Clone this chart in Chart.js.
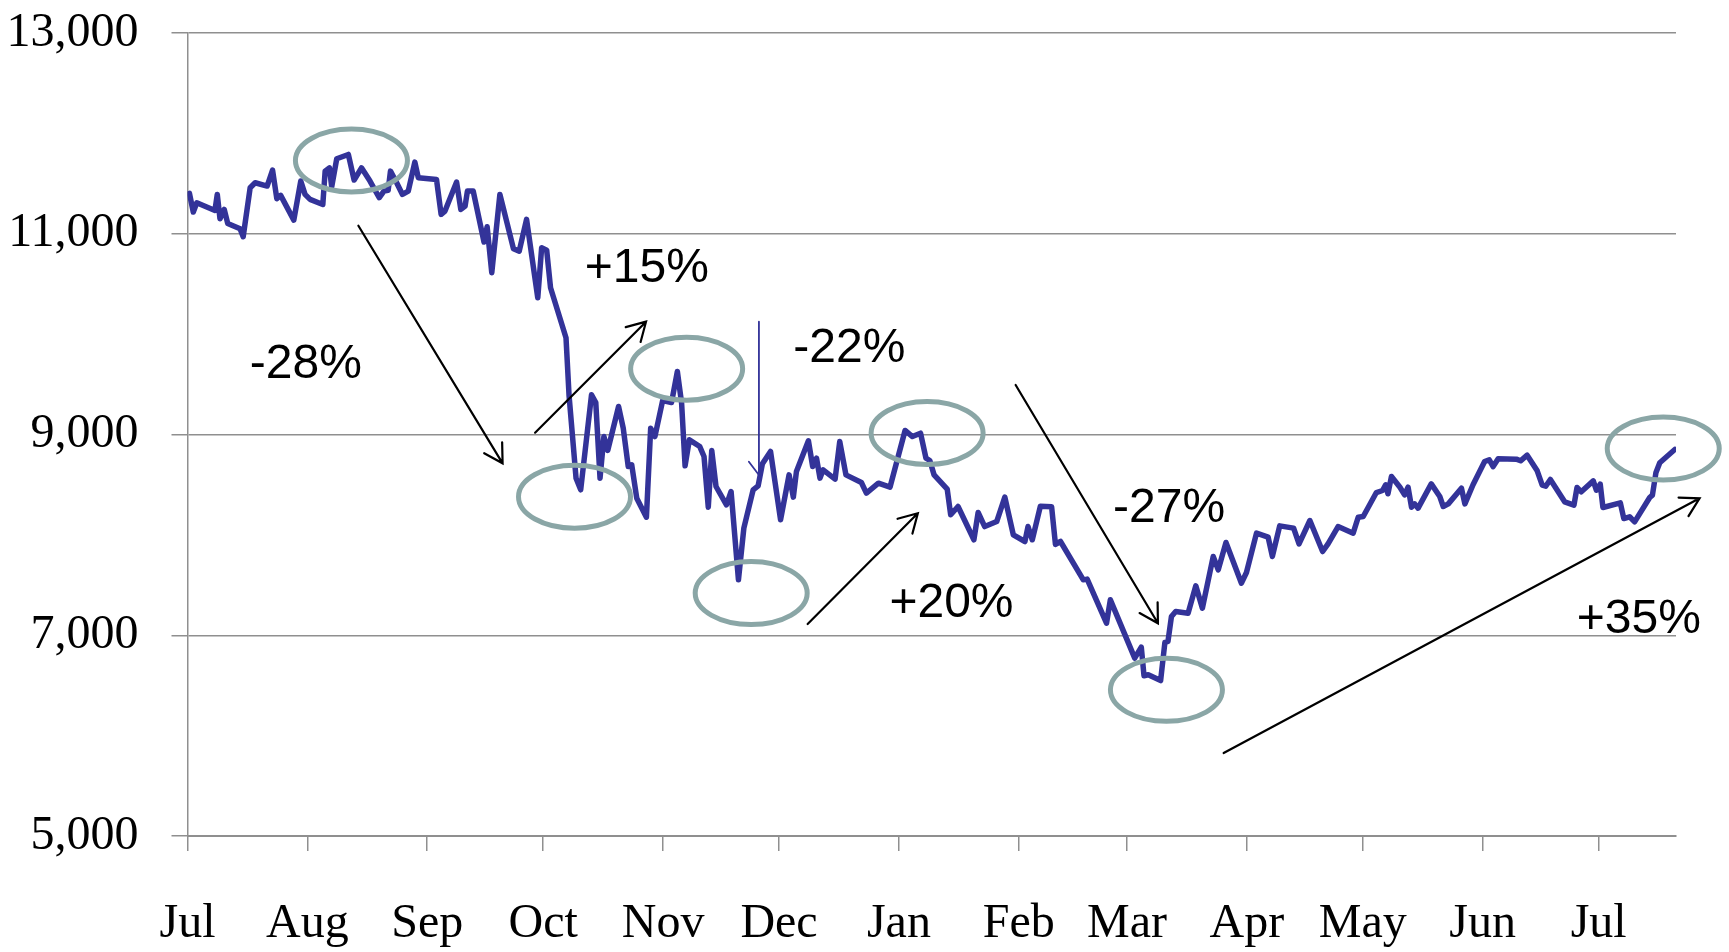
<!DOCTYPE html>
<html>
<head>
<meta charset="utf-8">
<title>Index, Jul to Jul</title>
<script src="https://cdn.jsdelivr.net/npm/chart.js@4.4.1/dist/chart.umd.min.js"></script>
<style>
    html, body { margin: 0; padding: 0; background: #fff; }
    #wrap { width: 1729px; height: 952px; }
</style>
</head>
<body>
<div id="wrap"><canvas id="indexChart" width="1729" height="952"></canvas></div>
<script>
// Days counted from 1 Jul (day 0)
const days = [
    0.5, 1.5, 2.4, 7.1, 7.7, 8.4, 9.5, 10.4, 13.6, 14.4, 16.2, 17.5, 20.6, 22.0, 23.1, 24.1,
    27.5, 29.3, 30.4, 31.7, 35.0, 35.6, 36.7, 37.3, 38.6, 41.6, 43.1, 45.0, 47.2, 49.6, 50.8,
    51.9, 52.5, 54.1, 55.6, 57.1, 58.8, 59.7, 64.4, 65.6, 66.6, 69.6, 70.7, 71.8, 72.4, 73.9,
    76.7, 77.5, 78.7, 80.8, 84.3, 85.8, 87.7, 90.6, 91.6, 92.9, 93.9, 97.9, 98.7, 100.5, 101.7,
    104.5, 105.6, 106.7, 107.7, 108.7, 111.5, 112.7, 114.0, 114.9, 116.2, 118.7, 119.8, 120.9,
    122.9, 125.2, 126.7, 127.8, 128.7, 129.8, 132.5, 133.6, 134.7, 135.6, 136.7, 139.4, 140.6,
    142.5, 143.9, 146.3, 147.6, 148.7, 150.8, 153.4, 155.6, 156.7, 157.5, 160.6, 161.7, 162.7,
    163.6, 164.4, 167.5, 168.7, 170.3, 174.3, 175.6, 178.7, 181.7, 185.6, 187.5, 189.6, 191.0,
    192.0, 193.1, 196.5, 197.4, 199.3, 203.4, 204.5, 206.2, 209.3, 211.4, 213.6, 216.6, 217.4,
    218.5, 220.6, 223.5, 224.5, 225.8, 231.7, 232.7, 237.7, 238.7, 245.0, 246.7, 247.4, 248.5,
    251.7, 252.8, 253.6, 254.5, 255.6, 258.8, 260.8, 262.5, 265.3, 266.6, 268.6, 272.6, 273.9,
    276.5, 279.5, 280.6, 282.5, 286.1, 287.5, 290.3, 293.6, 295.0, 297.6, 301.5, 302.8, 304.1,
    307.5, 309.1, 309.9, 310.5, 311.4, 313.6, 314.8, 315.7, 316.6, 317.4, 318.3, 321.7, 323.9,
    324.8, 326.1, 329.5, 330.4, 332.5, 335.5, 336.7, 337.7, 339.0, 343.7, 344.8, 346.5, 349.1,
    350.4, 351.3, 352.5, 356.2, 358.6, 359.4, 360.5, 363.6, 364.4, 365.4, 366.1, 370.6, 371.5,
    373.0, 374.3, 378.2, 378.9, 379.8, 380.8, 384.7
];

const values = [
    11402, 11216, 11309, 11232, 11392, 11149, 11242, 11103, 11050, 10970, 11458, 11508, 11475, 11634, 11349, 11382,
    11136, 11525, 11392, 11342, 11292, 11624, 11657, 11468, 11747, 11790, 11535, 11657, 11525, 11359, 11425,
    11432, 11624, 11508, 11392, 11425, 11714, 11558, 11541, 11193, 11226, 11515, 11242, 11276, 11425, 11425,
    10917, 11070, 10611, 11392, 10851, 10827, 11143, 10362, 10861, 10837, 10462, 9964, 9383, 8565, 8449,
    9395, 9319, 8565, 8980, 8841, 9279, 9063, 8681, 8698, 8366, 8176, 9063, 8980,
    9339, 9319, 9628, 9312, 8688, 8947, 8880, 8781, 8276, 8841, 8482, 8299, 8432,
    7552, 8067, 8449, 8489, 8708, 8831, 8150, 8598, 8376, 8631, 8937, 8681, 8764,
    8565, 8648, 8555, 8930, 8598, 8522, 8416, 8515, 8475, 9040, 8980, 9013, 8764,
    8741, 8598, 8455, 8200, 8283, 7951, 8223, 8083, 8133, 8376, 8000, 7934, 8083,
    7951, 8286, 8280, 7905, 7934, 7552, 7559, 7120, 7353, 6772, 6881, 6596, 6606,
    6549, 6928, 6938, 7187, 7237, 7220, 7492, 7270, 7785, 7652, 7924, 7519, 7625,
    8017, 7977, 7785, 8090, 8067, 7911, 8143, 7834, 7911, 8083, 8017, 8176, 8183,
    8422, 8442, 8499, 8409, 8582, 8475, 8399, 8475, 8276, 8309, 8266, 8508, 8382,
    8283, 8309, 8465, 8309, 8499, 8731, 8748, 8681, 8758, 8754, 8738, 8794, 8638,
    8495, 8485, 8552, 8329, 8296, 8472, 8429, 8538, 8445, 8505, 8273, 8319, 8163,
    8180, 8130, 8372, 8396, 8618, 8718, 8851
];

// Month ticks (day of each 1st) and their labels
const monthStarts = [0, 31, 62, 92, 123, 153, 184, 215, 243, 274, 304, 335, 365];
const monthLabels = ['Jul', 'Aug', 'Sep', 'Oct', 'Nov', 'Dec', 'Jan', 'Feb', 'Mar', 'Apr', 'May', 'Jun', 'Jul'];

const yTicks = [5000, 7000, 9000, 11000, 13000];

// Annotation callouts, in chart units (day, value)
const circles = [
    [42.4, 11730], [100.1, 8380], [129.1, 9655], [145.8, 7420],
    [191.3, 9015], [253.2, 6456], [381.7, 8860]
];
const arrows = [
    [44.2, 11080, 81.5, 8713],
    [89.9, 9018, 118.6, 10124],
    [160.4, 7112, 188.9, 8215],
    [214.2, 9493, 251.0, 7119],
    [268.0, 5827, 391.1, 8364]
];
const changeLabels = ['-28%', '+15%', '-22%', '+20%', '-27%', '+35%'];
const changeAt = [
    [30.6, 9560], [118.8, 10522], [171.2, 9725],
    [197.6, 7179], [253.9, 8125], [375.4, 7019]
];

const GRID = '#8f8f8f';
const LINE = '#333399';
const RING = '#8aa6a6';

function drawArrow(ctx, x1, y1, x2, y2) {
    const ang = Math.atan2(y2 - y1, x2 - x1);
    const len = 21;
    ctx.beginPath();
    ctx.moveTo(x1, y1);
    ctx.lineTo(x2, y2);
    ctx.moveTo(x2 - len * Math.cos(ang - Math.PI / 6), y2 - len * Math.sin(ang - Math.PI / 6));
    ctx.lineTo(x2, y2);
    ctx.lineTo(x2 - len * Math.cos(ang + Math.PI / 6), y2 - len * Math.sin(ang + Math.PI / 6));
    ctx.stroke();
}

const calloutPlugin = {
    id: 'callouts',
    afterDatasetsDraw(chart) {
        const ctx = chart.ctx;
        const xs = chart.scales.x;
        const ys = chart.scales.y;
        const px = d => xs.getPixelForValue(d);
        const py = v => ys.getPixelForValue(v);

        ctx.save();

        // grey rings
        ctx.strokeStyle = RING;
        ctx.lineWidth = 5;
        circles.forEach(([d, v]) => {
            ctx.beginPath();
            ctx.ellipse(px(d), py(v), 56, 31.5, 0, 0, Math.PI * 2);
            ctx.stroke();
        });

        // black arrows
        ctx.strokeStyle = '#000';
        ctx.lineWidth = 2.2;
        ctx.lineCap = 'round';
        arrows.forEach(([d1, v1, d2, v2]) => {
            drawArrow(ctx, px(d1), py(v1), px(d2), py(v2));
        });

        // thin blue marker line
        ctx.strokeStyle = LINE;
        ctx.lineWidth = 1.8;
        ctx.beginPath();
        ctx.moveTo(px(147.8), py(10124));
        ctx.lineTo(px(147.8), py(8596));
        ctx.moveTo(px(145.2), py(8729));
        ctx.lineTo(px(147.8), py(8596));
        ctx.stroke();

        // percentage labels
        ctx.fillStyle = '#000';
        ctx.font = '48px "Liberation Sans", Arial, sans-serif';
        ctx.textAlign = 'center';
        ctx.textBaseline = 'alphabetic';
        changeLabels.forEach((t, i) => {
            ctx.fillText(t, px(changeAt[i][0]), py(changeAt[i][1]));
        });

        ctx.restore();
    }
};

const ctx = document.getElementById('indexChart');

new Chart(ctx, {
    type: 'line',
    data: {
        datasets: [{
            data: days.map((d, i) => ({ x: d, y: values[i] })),
            borderColor: LINE,
            borderWidth: 5.5,
            borderJoinStyle: 'round',
            borderCapStyle: 'round',
            pointRadius: 0,
            tension: 0,
            fill: false
        }]
    },
    options: {
        responsive: false,
        animation: false,
        layout: {
            padding: { top: 33, right: 53, bottom: 0, left: 0 }
        },
        plugins: {
            legend: { display: false },
            tooltip: { enabled: false }
        },
        scales: {
            x: {
                type: 'linear',
                min: 0,
                max: 385,
                afterBuildTicks: scale => {
                    scale.ticks = monthStarts.map(v => ({ value: v }));
                },
                afterFit: scale => { scale.height = 116; },
                grid: {
                    drawOnChartArea: false,
                    color: GRID,
                    lineWidth: 1.5,
                    tickLength: 15
                },
                border: { display: true, color: GRID, width: 2 },
                ticks: {
                    autoSkip: false,
                    maxRotation: 0,
                    padding: 45,
                    color: '#000',
                    font: { family: '"Liberation Serif", "Times New Roman", serif', size: 48 },
                    callback: (value, index) => monthLabels[index]
                }
            },
            y: {
                min: 5000,
                max: 13000,
                afterBuildTicks: scale => {
                    scale.ticks = yTicks.map(v => ({ value: v }));
                },
                afterFit: scale => {
                    // fixed axis width; drop the extra label padding above/below the plot
                    scale.width = 187.5;
                    scale.paddingTop = 0;
                    scale.paddingBottom = 0;
                },
                grid: {
                    color: GRID,
                    lineWidth: 1.5,
                    tickLength: 16
                },
                border: { display: true, color: GRID, width: 1.5 },
                ticks: {
                    padding: 33,
                    color: '#000',
                    font: { family: '"Liberation Serif", "Times New Roman", serif', size: 48 },
                    callback: value => value.toLocaleString('en-US')
                }
            }
        }
    },
    plugins: [calloutPlugin]
});
</script>
</body>
</html>
